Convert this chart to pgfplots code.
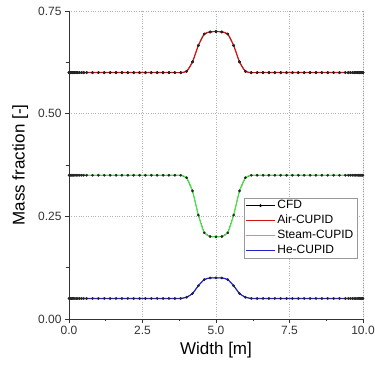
\documentclass[border=0pt]{standalone}
\usepackage{fontspec}
\setmainfont{Liberation Sans}
\usepackage{pgfplots}
\usepackage{pgfplotstable}
\pgfplotsset{compat=1.18}
\definecolor{airred}{RGB}{210,20,20}
\definecolor{steamgreen}{RGB}{70,228,70}
\definecolor{heblue}{RGB}{35,35,210}
\pgfplotstableread{
x air steam he
0 0.6 0.35 0.05
0.02 0.6 0.35 0.05
0.05 0.6 0.35 0.05
0.08 0.6 0.35 0.05
0.12 0.6 0.35 0.05
0.16 0.6 0.35 0.05
0.2 0.6 0.35 0.05
0.25 0.6 0.35 0.05
0.3 0.6 0.35 0.05
0.36 0.6 0.35 0.05
0.43 0.6 0.35 0.05
0.5 0.6 0.35 0.05
0.6 0.6 0.35 0.05
0.8 0.6 0.35 0.05
1.0 0.6 0.35 0.05
1.2 0.6 0.35 0.05
1.4 0.6 0.35 0.05
1.6 0.6 0.35 0.05
1.8 0.6 0.35 0.05
2.0 0.6 0.35 0.05
2.2 0.6 0.35 0.05
2.4 0.6 0.35 0.05
2.6 0.6 0.35 0.05
2.8 0.6 0.35 0.05
3.0 0.6 0.35 0.05
3.2 0.6 0.35 0.05
3.4 0.6 0.35 0.05
3.6 0.6 0.35 0.05
3.8 0.6 0.35 0.05
4.0 0.603 0.344 0.053
4.2 0.626 0.312 0.062
4.4 0.666 0.253 0.081
4.6 0.694 0.210 0.096
4.8 0.699 0.201 0.100
5.0 0.700 0.200 0.100
5.2 0.699 0.201 0.100
5.4 0.694 0.210 0.096
5.6 0.666 0.253 0.081
5.8 0.626 0.312 0.062
6.0 0.603 0.344 0.053
6.2 0.6 0.35 0.05
6.4 0.6 0.35 0.05
6.6 0.6 0.35 0.05
6.8 0.6 0.35 0.05
7.0 0.6 0.35 0.05
7.2 0.6 0.35 0.05
7.4 0.6 0.35 0.05
7.6 0.6 0.35 0.05
7.8 0.6 0.35 0.05
8.0 0.6 0.35 0.05
8.2 0.6 0.35 0.05
8.4 0.6 0.35 0.05
8.6 0.6 0.35 0.05
8.8 0.6 0.35 0.05
9.0 0.6 0.35 0.05
9.2 0.6 0.35 0.05
9.4 0.6 0.35 0.05
9.5 0.6 0.35 0.05
9.57 0.6 0.35 0.05
9.64 0.6 0.35 0.05
9.7 0.6 0.35 0.05
9.75 0.6 0.35 0.05
9.8 0.6 0.35 0.05
9.84 0.6 0.35 0.05
9.88 0.6 0.35 0.05
9.92 0.6 0.35 0.05
9.95 0.6 0.35 0.05
9.98 0.6 0.35 0.05
10 0.6 0.35 0.05
}\data
\begin{document}
\begin{tikzpicture}
\begin{axis}[
  scale only axis,
  width=294pt, height=308pt,
  xmin=0, xmax=10, ymin=0, ymax=0.75,
  xtick={0,2.5,5,7.5,10},
  ytick={0,0.25,0.5,0.75},
  minor xtick={1.25,3.75,6.25,8.75},
  minor ytick={0.125,0.375,0.625},
  xticklabel style={/pgf/number format/.cd,fixed,fixed zerofill,precision=1},
  yticklabel style={/pgf/number format/.cd,fixed,fixed zerofill,precision=2},
  /pgf/number format/assume math mode=true,
  ticklabel style={font=\fontsize{12}{14}\selectfont, text=black!80},
  tick align=outside,
  major tick length=4pt, minor tick length=2.5pt,
  tick style={black!80, line width=0.5pt},
  axis lines*=left,
  axis line style={black!80, line width=0.6pt, -},
  xtick pos=bottom, ytick pos=left,
  grid=major,
  major grid style={dotted, black!30, line width=0.5pt},
  xlabel={Width [m]},
  ylabel={Mass fraction [-]},
  label style={font=\fontsize{17}{20}\selectfont},
  xlabel style={yshift=0pt},
  ylabel style={yshift=3pt},
  legend style={at={(0.98,0.393)}, anchor=north east,
    draw=black!40, line width=0.4pt, font=\fontsize{12}{13}\selectfont,
    inner sep=1.5pt, row sep=3pt, fill=white,
    nodes={inner ysep=0.5pt, text height=8.5pt, text depth=2.5pt}},
  legend cell align=left,
  legend image code/.code={
    \draw[mark repeat=2,mark phase=2,#1] plot coordinates {(0cm,0cm) (0.5cm,0cm) (1cm,0cm)};
  },
]
\addplot[black, line width=0.4pt, mark=*, mark size=1.2pt] table[x=x,y=air]{\data};
\addlegendentry{CFD}
\addplot[black, line width=0.4pt, forget plot] table[x=x,y=steam]{\data};
\addplot[black, line width=0.4pt, forget plot] table[x=x,y=he]{\data};
\addplot[airred, line width=1.2pt, smooth, tension=0.4] table[x=x,y=air]{\data};
\addlegendentry{Air-CUPID}
\addplot[steamgreen, line width=1.2pt, smooth, tension=0.4] table[x=x,y=steam]{\data};
\addlegendentry{Steam-CUPID}
\addplot[heblue, line width=1.2pt, smooth, tension=0.4] table[x=x,y=he]{\data};
\addlegendentry{He-CUPID}
\addplot[only marks, mark=*, mark size=1.2pt, black!85, forget plot] table[x=x,y=air]{\data};
\addplot[only marks, mark=*, mark size=1.2pt, black!85, forget plot] table[x=x,y=steam]{\data};
\addplot[only marks, mark=*, mark size=1.2pt, black!85, forget plot] table[x=x,y=he]{\data};
\draw[black!80, line width=0.6pt] (rel axis cs:1,0) -- (rel axis cs:1,1);
\end{axis}
\path (current axis.south west) ++(-69pt,-47pt) coordinate (bbl);
\path (current axis.north east) ++(12pt,11pt) coordinate (bbr);
\pgfresetboundingbox
\useasboundingbox (bbl) rectangle (bbr);
\end{tikzpicture}
\end{document}
